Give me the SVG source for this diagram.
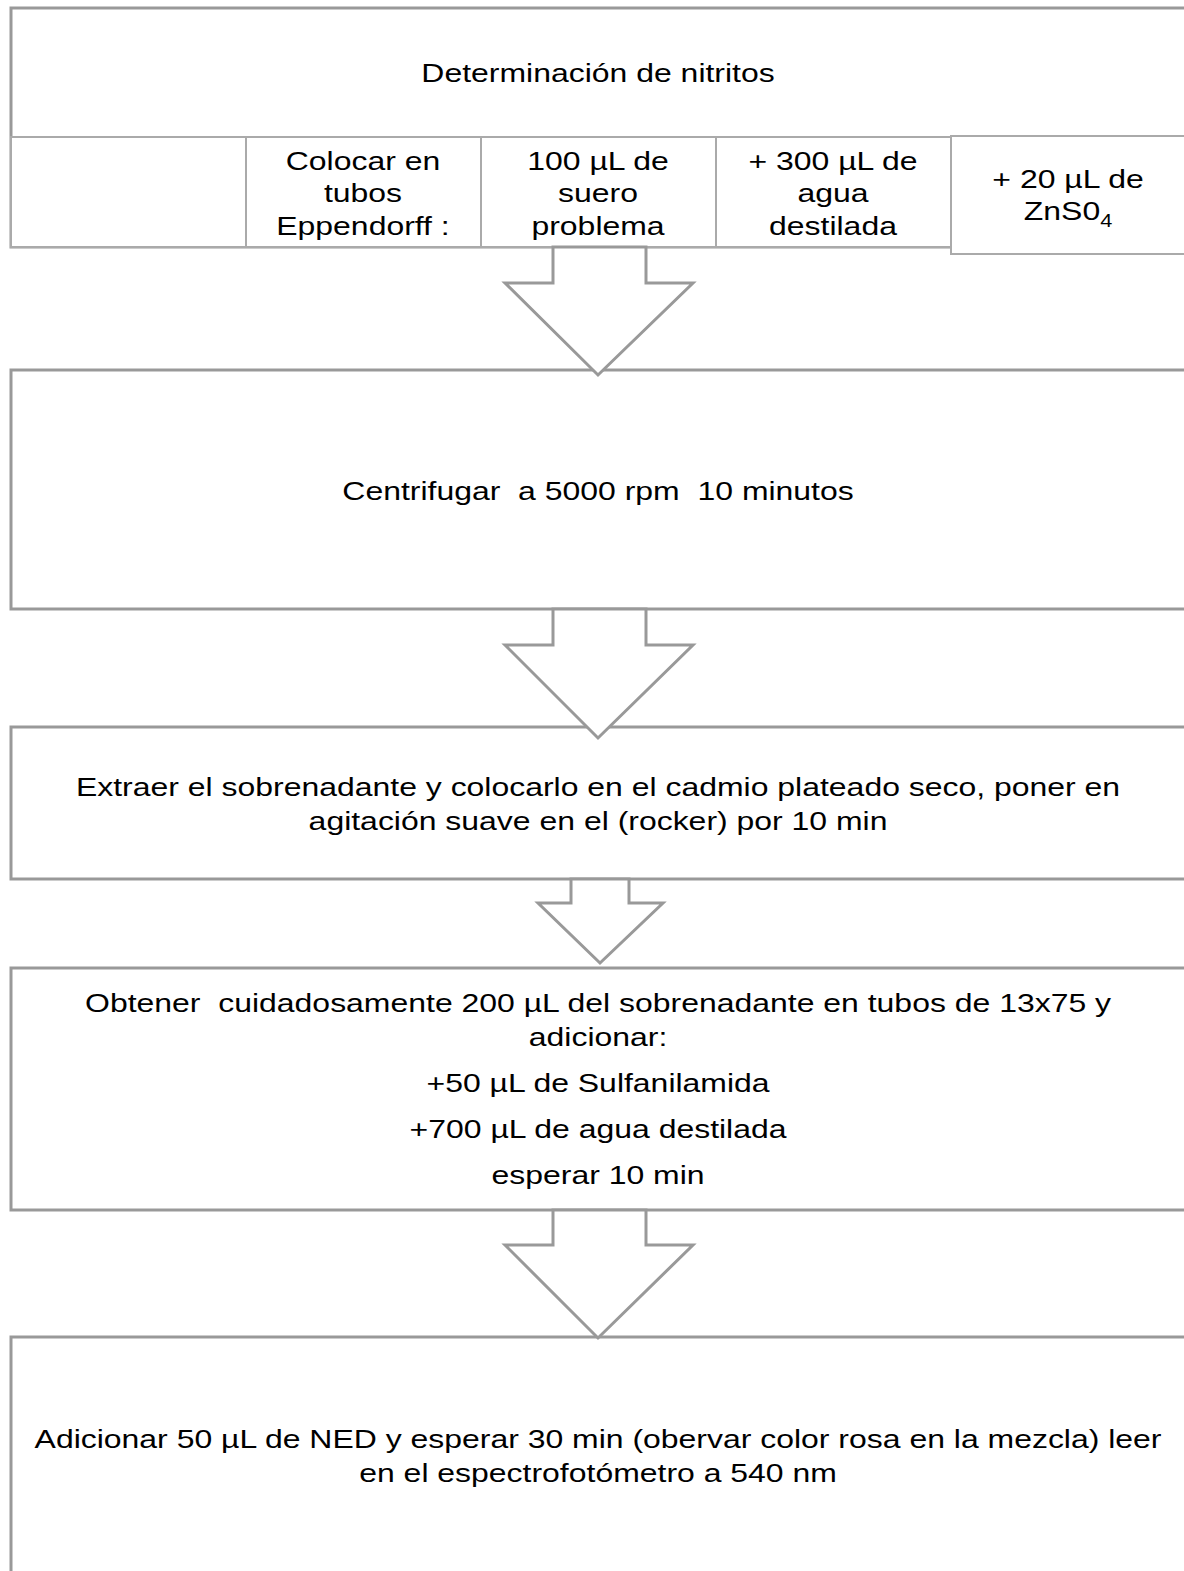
<svg xmlns="http://www.w3.org/2000/svg" width="1184" height="1571" viewBox="0 0 1184 1571">
<style>
.box{fill:#fff;stroke:#999;stroke-width:3}
.cell{fill:#fff;stroke:#aaa;stroke-width:2}
.arrow{fill:#fff;stroke:#999;stroke-width:3}
text{font-family:"Liberation Sans",Arial,sans-serif;font-size:26.5px;fill:#000;text-anchor:middle;white-space:pre}
</style>
<rect width="1184" height="1571" fill="#fff"/>
<g id="node-title">
<rect class="box" x="11" y="8" width="1200" height="239"/>
<line x1="11" y1="137" x2="1184" y2="137" stroke="#aaa" stroke-width="2"/>
<text transform="scale(1.206 1)" x="495.9" y="82">Determinación de nitritos</text>
</g>
<g id="node-cells">
<rect class="cell" x="11" y="137" width="235" height="110"/>
<rect class="cell" x="246" y="137" width="235" height="110"/>
<rect class="cell" x="481" y="137" width="235" height="110"/>
<rect class="cell" x="716" y="137" width="235" height="110"/>
<rect class="cell" x="951" y="136" width="260" height="118"/>
<text transform="scale(1.206 1)" x="301" y="170">Colocar en</text>
<text transform="scale(1.206 1)" x="301" y="202">tubos</text>
<text transform="scale(1.206 1)" x="301" y="235">Eppendorff :</text>
<text transform="scale(1.206 1)" x="495.9" y="170">100 µL de</text>
<text transform="scale(1.206 1)" x="495.9" y="202">suero</text>
<text transform="scale(1.206 1)" x="495.9" y="235">problema</text>
<text transform="scale(1.206 1)" x="690.7" y="170">+ 300 µL de</text>
<text transform="scale(1.206 1)" x="690.7" y="202">agua</text>
<text transform="scale(1.206 1)" x="690.7" y="235">destilada</text>
<text transform="scale(1.206 1)" x="885.6" y="188">+ 20 µL de</text>
<text transform="scale(1.206 1)" x="885.6" y="220">ZnS0<tspan font-size="18" dy="7">4</tspan></text>
</g>
<g id="node-centrifugar">
<rect class="box" x="11" y="370" width="1200" height="239"/>
<text transform="scale(1.206 1)" x="495.9" y="500">Centrifugar  a 5000 rpm  10 minutos</text>
</g>
<g id="node-extraer">
<rect class="box" x="11" y="727" width="1200" height="152"/>
<text transform="scale(1.206 1)" x="495.9" y="796">Extraer el sobrenadante y colocarlo en el cadmio plateado seco, poner en</text>
<text transform="scale(1.206 1)" x="495.9" y="830">agitación suave en el (rocker) por 10 min</text>
</g>
<g id="node-obtener">
<rect class="box" x="11" y="968" width="1200" height="242"/>
<text transform="scale(1.206 1)" x="495.9" y="1012">Obtener  cuidadosamente 200 µL del sobrenadante en tubos de 13x75 y</text>
<text transform="scale(1.206 1)" x="495.9" y="1046">adicionar:</text>
<text transform="scale(1.206 1)" x="495.9" y="1092">+50 µL de Sulfanilamida</text>
<text transform="scale(1.206 1)" x="495.9" y="1138">+700 µL de agua destilada</text>
<text transform="scale(1.206 1)" x="495.9" y="1184">esperar 10 min</text>
</g>
<g id="node-adicionar">
<rect class="box" x="11" y="1337" width="1200" height="300"/>
<text transform="scale(1.206 1)" x="495.9" y="1448">Adicionar 50 µL de NED y esperar 30 min (obervar color rosa en la mezcla) leer</text>
<text transform="scale(1.206 1)" x="495.9" y="1482">en el espectrofotómetro a 540 nm</text>
</g>
<g id="connectors">
<polygon class="arrow" points="553,247 553,283 505,283 598,375 693,283 646,283 646,247"/>
<polygon class="arrow" points="553,609 553,645 505,645 598,738 693,645 646,645 646,609"/>
<polygon class="arrow" points="571,879 571,903 538,903 600,963 663,903 629,903 629,879"/>
<polygon class="arrow" points="553,1210 553,1245 505,1245 598,1338 693,1245 646,1245 646,1210"/>
</g>
</svg>
